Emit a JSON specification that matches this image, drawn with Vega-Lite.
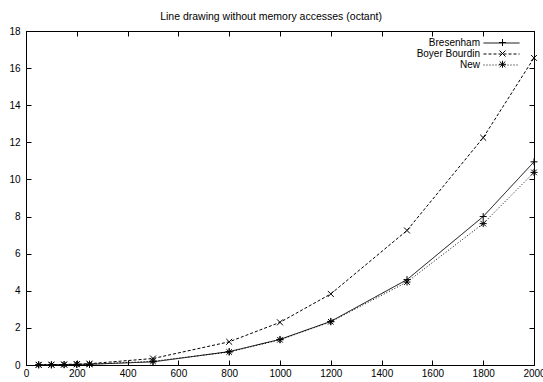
{
  "$schema": "https://vega.github.io/schema/vega-lite/v6.json",
  "width": 508,
  "height": 334,
  "autosize": {"type": "none"},
  "padding": {"left": 26, "top": 31, "right": 9, "bottom": 17},
  "background": "white",
  "title": {
    "text": "Line drawing without memory accesses (octant)",
    "fontSize": 10.5,
    "fontWeight": "normal",
    "font": "Liberation Sans",
    "color": "black",
    "offset": -4,
    "baseline": "alphabetic",
    "dx": -9
  },
  "config": {
    "font": "Liberation Sans",
    "view": {"stroke": "black", "strokeWidth": 1},
    "axis": {
      "domainColor": "black",
      "domainWidth": 1,
      "tickColor": "black",
      "tickWidth": 1,
      "tickSize": -5,
      "labelColor": "black",
      "labelFont": "Liberation Sans",
      "labelFontSize": 10,
      "grid": false,
      "title": null,
      "format": "d"
    }
  },
  "data": {
    "values": [
      {"series": "Bresenham", "length": 50, "time": 0.01},
      {"series": "Bresenham", "length": 100, "time": 0.01},
      {"series": "Bresenham", "length": 150, "time": 0.02},
      {"series": "Bresenham", "length": 200, "time": 0.03},
      {"series": "Bresenham", "length": 250, "time": 0.04},
      {"series": "Bresenham", "length": 500, "time": 0.17},
      {"series": "Bresenham", "length": 800, "time": 0.72},
      {"series": "Bresenham", "length": 1000, "time": 1.38},
      {"series": "Bresenham", "length": 1200, "time": 2.35},
      {"series": "Bresenham", "length": 1500, "time": 4.6},
      {"series": "Bresenham", "length": 1800, "time": 8.0},
      {"series": "Bresenham", "length": 2000, "time": 10.95},
      {"series": "Boyer Bourdin", "length": 50, "time": 0.01},
      {"series": "Boyer Bourdin", "length": 100, "time": 0.02},
      {"series": "Boyer Bourdin", "length": 150, "time": 0.03},
      {"series": "Boyer Bourdin", "length": 200, "time": 0.05},
      {"series": "Boyer Bourdin", "length": 250, "time": 0.07},
      {"series": "Boyer Bourdin", "length": 500, "time": 0.35},
      {"series": "Boyer Bourdin", "length": 800, "time": 1.25},
      {"series": "Boyer Bourdin", "length": 1000, "time": 2.3},
      {"series": "Boyer Bourdin", "length": 1200, "time": 3.83},
      {"series": "Boyer Bourdin", "length": 1500, "time": 7.25},
      {"series": "Boyer Bourdin", "length": 1800, "time": 12.25},
      {"series": "Boyer Bourdin", "length": 2000, "time": 16.55},
      {"series": "New", "length": 50, "time": 0.01},
      {"series": "New", "length": 100, "time": 0.01},
      {"series": "New", "length": 150, "time": 0.02},
      {"series": "New", "length": 200, "time": 0.03},
      {"series": "New", "length": 250, "time": 0.04},
      {"series": "New", "length": 500, "time": 0.2},
      {"series": "New", "length": 800, "time": 0.7},
      {"series": "New", "length": 1000, "time": 1.36},
      {"series": "New", "length": 1200, "time": 2.33},
      {"series": "New", "length": 1500, "time": 4.47},
      {"series": "New", "length": 1800, "time": 7.62},
      {"series": "New", "length": 2000, "time": 10.38}
    ]
  },
  "layer": [
    {
      "mark": {"type": "line", "color": "black", "strokeWidth": 1},
      "encoding": {
        "x": {
          "field": "length",
          "type": "quantitative",
          "scale": {"domain": [0, 2000], "nice": false, "zero": false},
          "axis": {"values": [0, 200, 400, 600, 800, 1000, 1200, 1400, 1600, 1800, 2000], "labelPadding": 8, "labelFlush": false}
        },
        "y": {
          "field": "time",
          "type": "quantitative",
          "scale": {"domain": [0, 18], "nice": false},
          "axis": {"values": [0, 2, 4, 6, 8, 10, 12, 14, 16, 18], "labelPadding": 11, "labelFlush": false}
        },
        "strokeDash": {
          "field": "series",
          "type": "nominal",
          "scale": {"domain": ["Bresenham", "Boyer Bourdin", "New"], "range": [[1, 0], [3, 2], [1, 2]]},
          "legend": {
            "orient": "none",
            "legendX": 457,
            "legendY": 6.5,
            "title": null,
            "padding": 0,
            "symbolType": "M-1,0H1",
            "symbolSize": 1296,
            "symbolStrokeWidth": 1,
            "symbolStrokeColor": "black",
            "symbolFillColor": "transparent",
            "rowPadding": -0.2,
            "labelAlign": "right",
            "labelOffset": -40,
            "labelFont": "Liberation Sans",
            "labelFontSize": 10,
            "labelColor": "black",
            "encode": {
              "symbols": {"update": {"y": {"value": 5.5}}},
              "labels": {"update": {"y": {"value": 5.5}}}
            }
          }
        }
      }
    },
    {
      "mark": {"type": "point", "filled": false, "stroke": "black", "strokeWidth": 1, "size": 49, "opacity": 1},
      "encoding": {
        "x": {
          "field": "length",
          "type": "quantitative",
          "axis": {"orient": "top", "labels": false, "values": [0, 200, 400, 600, 800, 1000, 1200, 1400, 1600, 1800, 2000]}
        },
        "y": {
          "field": "time",
          "type": "quantitative",
          "axis": {"orient": "right", "labels": false, "values": [0, 2, 4, 6, 8, 10, 12, 14, 16, 18]}
        },
        "shape": {
          "field": "series",
          "type": "nominal",
          "scale": {
            "domain": ["Bresenham", "Boyer Bourdin", "New"],
            "range": [
              "M-1,0H1M0,-1V1",
              "M-0.85,-0.85L0.85,0.85M-0.85,0.85L0.85,-0.85",
              "M-1,0H1M0,-1V1M-0.8,-0.8L0.8,0.8M-0.8,0.8L0.8,-0.8"
            ]
          },
          "legend": {
            "orient": "none",
            "legendX": 457,
            "legendY": 6.5,
            "title": null,
            "padding": 0,
            "symbolSize": 49,
            "symbolStrokeWidth": 1,
            "symbolStrokeColor": "black",
            "symbolFillColor": "transparent",
            "symbolOffset": 14.5,
            "rowPadding": -0.2,
            "labelExpr": "' '",
            "labelAlign": "left",
            "labelOffset": -10,
            "labelOpacity": 0,
            "labelFont": "Liberation Sans",
            "labelFontSize": 10,
            "encode": {
              "symbols": {"update": {"y": {"value": 5.5}}},
              "labels": {"update": {"y": {"value": 5.5}}}
            }
          }
        }
      }
    }
  ],
  "resolve": {
    "axis": {"x": "independent", "y": "independent"},
    "legend": {"strokeDash": "independent", "shape": "independent"}
  }
}
